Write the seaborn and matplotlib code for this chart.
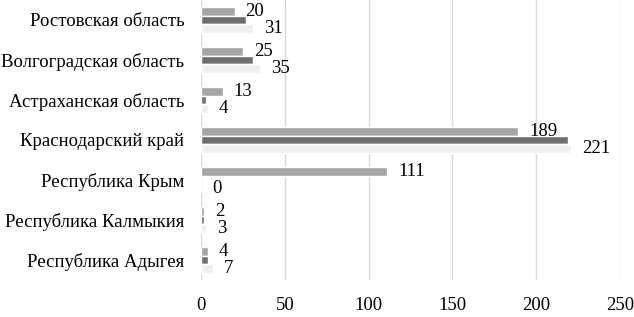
import matplotlib

matplotlib.use("Agg")
import matplotlib.pyplot as plt
import pandas as pd
import seaborn as sns

# categories, top to bottom
regions = [
    "Ростовская область",
    "Волгоградская область",
    "Астраханская область",
    "Краснодарский край",
    "Республика Крым",
    "Республика Калмыкия",
    "Республика Адыгея",
]
series_names = ["ряд 1", "ряд 2", "ряд 3"]
vals_1 = [20, 25, 13, 189, 111, 2, 4]
vals_2 = [27, 31, 3, 219, 0, 2, 4]
vals_3 = [31, 35, 4, 221, 0, 3, 7]
x_ticks = [0, 50, 100, 150, 200, 250]

colors = ["#a5a5a5", "#6f6f6f", "#efefef"]

df = pd.DataFrame(
    {
        "region": regions * 3,
        "series": [s for s in series_names for _ in regions],
        "value": vals_1 + vals_2 + vals_3,
    }
)

sns.set_theme(style="white")
plt.rcParams["font.family"] = ["Liberation Serif", "DejaVu Serif"]

fig = plt.figure(figsize=(6.34, 3.17), dpi=100)
ax = fig.add_axes([0.317, 0.117, 0.661, 0.883])

sns.barplot(
    data=df, y="region", x="value", hue="series", orient="h",
    palette=colors, width=0.66, ax=ax, legend=False, saturation=1,
)

# labels only on the first and last series
for i in (0, 2):
    ax.bar_label(ax.containers[i], padding=8, fontsize=13.5, color="black")

ax.set_xlim(0, 250)
ax.set_ylim(6.5, -0.5)
ax.set_xticks(x_ticks)
ax.set_xlabel("")
ax.set_ylabel("")
ax.grid(axis="x", color="#d9d9d9", linewidth=1)
ax.set_axisbelow(True)
for s in ax.spines.values():
    s.set_visible(False)
ax.tick_params(axis="x", length=0, pad=12, labelsize=13.5, labelcolor="black")
ax.tick_params(axis="y", length=0, pad=12, labelsize=13.5, labelcolor="black")

fig.savefig("out.png", dpi=100)
